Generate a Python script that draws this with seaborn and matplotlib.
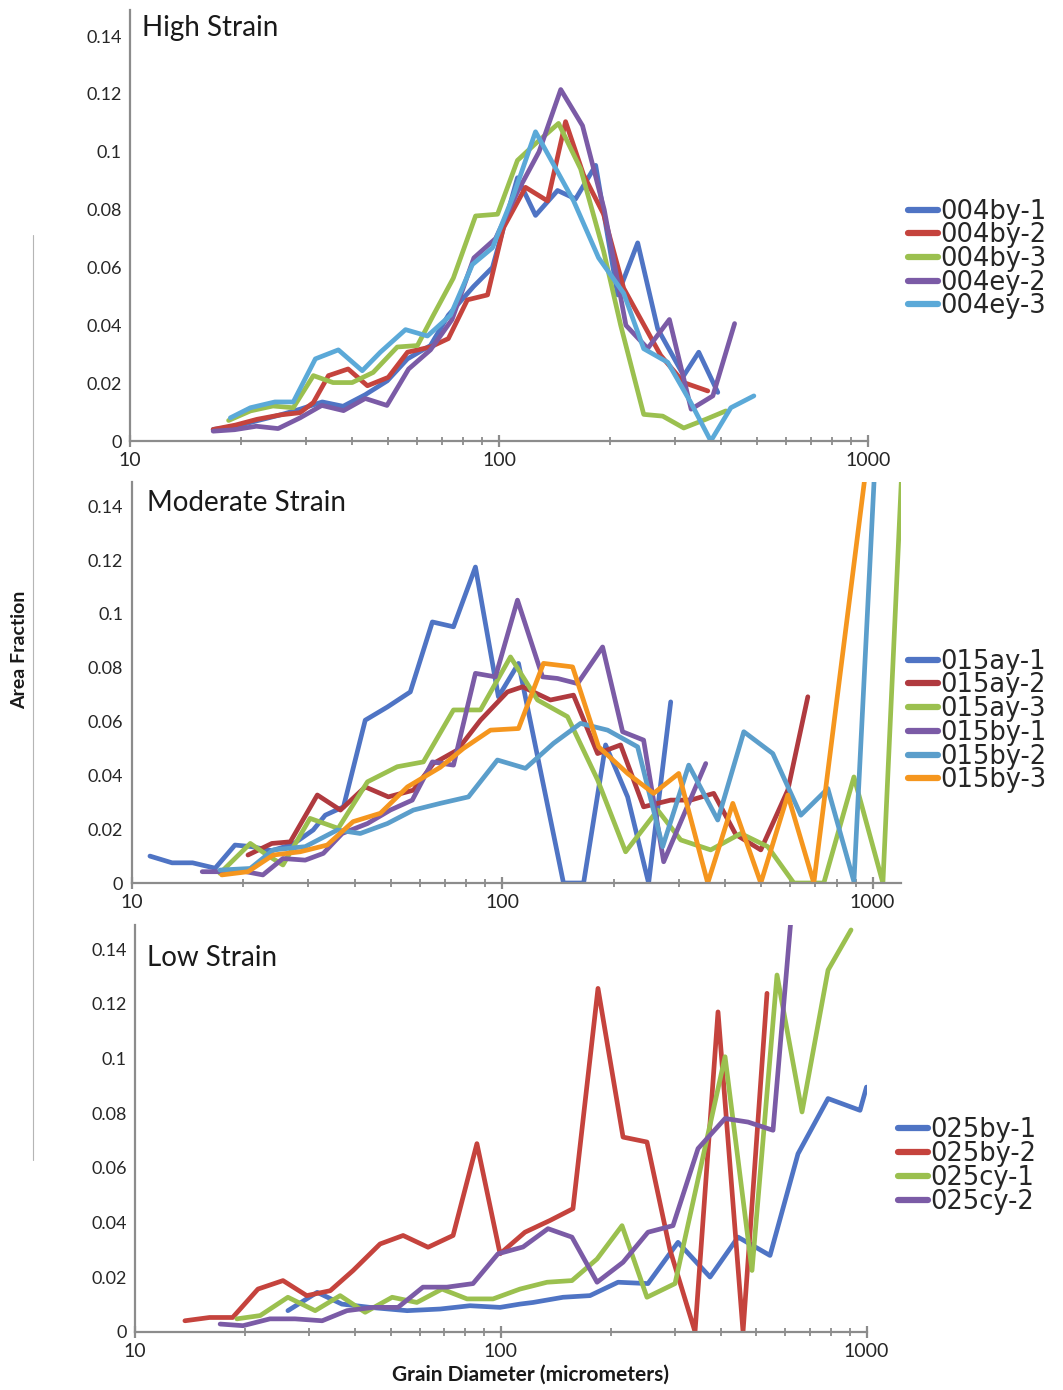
import matplotlib
matplotlib.use("Agg")
import matplotlib.pyplot as plt
import numpy as np
import pandas as pd
import seaborn as sns
from matplotlib.ticker import LogLocator, NullFormatter, FixedLocator, FixedFormatter
from matplotlib.lines import Line2D

# ---------------- data (grain diameter in micrometers, area fraction) ----------------
# High strain
hs_by1_d = [16.8, 19.3, 22.1, 25.5, 28.9, 33.2, 37.8, 43.4, 49.8, 56.5, 65.2, 72.9, 85.3, 96.0, 112.2, 125.6, 144.1, 161.3, 182.8, 209.7, 237.6, 269.2, 316.7, 347.8, 391.7]
hs_by1_f = [0.004, 0.005, 0.007, 0.009, 0.011, 0.0135, 0.012, 0.016, 0.0208, 0.0284, 0.033, 0.0435, 0.0534, 0.060, 0.091, 0.078, 0.0866, 0.0837, 0.0953, 0.0505, 0.0685, 0.0388, 0.0226, 0.0307, 0.0168]
hs_by2_d = [16.8, 19.3, 22.1, 25.5, 28.9, 31.4, 34.5, 39.0, 44.0, 50.1, 56.5, 65.2, 72.9, 82.1, 93.1, 102.8, 118.0, 135.4, 151.5, 169.5, 192.1, 217.7, 274.3, 316.7, 368.0]
hs_by2_f = [0.004, 0.0055, 0.0075, 0.009, 0.0098, 0.0133, 0.0226, 0.0249, 0.0191, 0.022, 0.0307, 0.0325, 0.0354, 0.0488, 0.0505, 0.0737, 0.0877, 0.083, 0.1104, 0.092, 0.0784, 0.0528, 0.0296, 0.0202, 0.0173]
hs_by3_d = [18.5, 21.2, 24.4, 27.7, 31.4, 35.5, 40.0, 45.6, 53.0, 60.1, 66.4, 75.2, 86.4, 99.1, 112.2, 125.6, 145.0, 166.4, 192.1, 213.7, 246.7, 277.8, 316.7, 363.5, 411.9]
hs_by3_f = [0.0071, 0.0104, 0.0121, 0.0115, 0.0226, 0.0202, 0.0202, 0.0237, 0.0325, 0.033, 0.0435, 0.0563, 0.0778, 0.0784, 0.097, 0.1028, 0.1098, 0.0941, 0.0656, 0.040, 0.0092, 0.0086, 0.0045, 0.0075, 0.0104]
hs_ey2_d = [16.8, 19.2, 22.0, 25.2, 28.9, 33.1, 37.9, 43.4, 49.7, 56.9, 65.2, 74.6, 85.5, 97.9, 112.1, 128.4, 147.0, 168.4, 192.8, 220.8, 252.9, 289.6, 331.7, 379.8, 435.0]
hs_ey2_f = [0.0034, 0.0039, 0.0051, 0.0043, 0.008, 0.0123, 0.0105, 0.0147, 0.0123, 0.0249, 0.0315, 0.042, 0.0633, 0.070, 0.086, 0.100, 0.1215, 0.109, 0.080, 0.040, 0.032, 0.042, 0.011, 0.0156, 0.0406]
hs_ey3_d = [18.7, 21.2, 24.7, 27.7, 31.8, 36.7, 42.6, 47.7, 55.8, 64.0, 73.9, 84.7, 96.0, 109.5, 125.6, 159.3, 186.2, 217.7, 246.7, 286.6, 330.9, 375.0, 424.9, 490.6]
hs_ey3_f = [0.008, 0.0115, 0.0135, 0.0135, 0.0284, 0.0315, 0.0243, 0.0307, 0.0385, 0.0363, 0.0435, 0.061, 0.0668, 0.085, 0.1069, 0.083, 0.0633, 0.0511, 0.0319, 0.0272, 0.0133, 0.0, 0.0115, 0.0156]

# Moderate strain
ms_ay1_d = [11.2, 12.85, 14.6, 16.8, 19.0, 21.1, 23.9, 27.3, 30.9, 33.3, 37.3, 42.7, 49.0, 56.5, 64.8, 73.9, 84.7, 97.7, 110.7, 146.4, 165.9, 190.2, 218.1, 248.5, 285.1]
ms_ay1_f = [0.010, 0.0075, 0.0075, 0.0055, 0.0141, 0.0135, 0.012, 0.0145, 0.0197, 0.0252, 0.0283, 0.0605, 0.0654, 0.071, 0.097, 0.0952, 0.1174, 0.0692, 0.0816, 0.0, 0.0, 0.0513, 0.032, 0.0, 0.0673]
ms_ay2_d = [20.6, 23.9, 26.8, 31.7, 36.6, 42.7, 49.3, 57.6, 65.2, 75.7, 87.4, 103.3, 113.5, 135.0, 155.8, 181.0, 208.8, 240.9, 285.1, 322.9, 372.5, 427.3, 499.1, 590.3, 668.6]
ms_ay2_f = [0.0104, 0.0147, 0.0153, 0.0327, 0.0271, 0.0357, 0.032, 0.0345, 0.0444, 0.0494, 0.0605, 0.071, 0.0729, 0.068, 0.0698, 0.0481, 0.0513, 0.0283, 0.0308, 0.0308, 0.0333, 0.018, 0.0123, 0.0345, 0.0692]
ms_ay3_d = [17.3, 20.9, 23.2, 25.6, 30.3, 36.1, 43.3, 52.1, 61.3, 73.9, 87.4, 105.3, 124.6, 150.1, 181.0, 215.4, 262.9, 303.4, 365.6, 440.8, 521.2, 612.8, 738.4, 890.4, 1066.0, 1262.0]
ms_ay3_f = [0.0036, 0.0147, 0.0104, 0.0067, 0.024, 0.0203, 0.0376, 0.0432, 0.045, 0.0643, 0.0643, 0.084, 0.068, 0.0618, 0.0383, 0.0116, 0.0271, 0.016, 0.0123, 0.0184, 0.0135, 0.0, 0.0, 0.0394, 0.0, 0.22]
ms_by1_d = [15.5, 17.1, 19.3, 22.6, 25.6, 29.4, 32.9, 37.0, 43.3, 49.9, 57.2, 64.8, 73.9, 84.7, 95.9, 110.0, 128.5, 141.1, 159.8, 186.7, 211.4, 240.9, 272.9, 354.5]
ms_by1_f = [0.0042, 0.0042, 0.0048, 0.003, 0.0091, 0.0085, 0.011, 0.0184, 0.0221, 0.0271, 0.0308, 0.045, 0.0438, 0.0779, 0.0766, 0.1051, 0.0766, 0.076, 0.0741, 0.0877, 0.0562, 0.0531, 0.0079, 0.0444]
ms_by2_d = [17.3, 20.9, 24.1, 29.4, 35.9, 41.4, 49.0, 57.6, 68.1, 81.1, 97.1, 115.6, 137.6, 162.8, 192.6, 232.1, 271.2, 318.9, 381.9, 449.1, 537.7, 640.1, 757.0, 890.4, 1053.0]
ms_by2_f = [0.0048, 0.0054, 0.0123, 0.0135, 0.0197, 0.0184, 0.0221, 0.0271, 0.0296, 0.032, 0.0457, 0.0426, 0.0519, 0.0593, 0.0568, 0.0506, 0.0135, 0.0438, 0.0234, 0.0562, 0.0481, 0.0252, 0.0351, 0.0005, 0.2]
ms_by3_d = [17.5, 20.6, 24.1, 28.5, 33.7, 39.6, 46.9, 55.5, 68.1, 78.6, 93.0, 110.7, 129.3, 154.9, 182.1, 218.1, 256.4, 299.7, 358.9, 419.4, 499.1, 590.3, 693.9, 1053.0]
ms_by3_f = [0.003, 0.0042, 0.0104, 0.0116, 0.0141, 0.0228, 0.0259, 0.0357, 0.043, 0.050, 0.0568, 0.0574, 0.0816, 0.0803, 0.0506, 0.0407, 0.0333, 0.0407, 0.0, 0.0296, 0.0, 0.0327, 0.0, 0.198]

# Low strain
ls_by1_d = [26.2, 31.5, 36.8, 43.9, 55.5, 68.3, 82.4, 99.6, 112.9, 122.6, 148.1, 175.4, 209.3, 252.7, 305.3, 373.5, 445.5, 544.8, 649.8, 785.0, 960.0, 1000.0]
ls_by1_f = [0.0077, 0.0144, 0.0101, 0.0089, 0.0077, 0.0083, 0.0095, 0.0089, 0.0101, 0.0107, 0.0126, 0.0132, 0.0181, 0.0176, 0.0327, 0.02, 0.0346, 0.0279, 0.0651, 0.0853, 0.081, 0.0895]
ls_by2_d = [13.7, 16.0, 18.5, 21.7, 25.4, 29.5, 34.2, 39.5, 46.8, 54.1, 63.3, 74.1, 86.1, 99.6, 116.5, 136.4, 157.6, 184.5, 216.0, 251.1, 290.2, 339.8, 392.7, 459.7, 534.6]
ls_by2_f = [0.004, 0.0052, 0.0052, 0.0156, 0.0187, 0.0132, 0.015, 0.0224, 0.0321, 0.0352, 0.0309, 0.0352, 0.0688, 0.0285, 0.0364, 0.0407, 0.045, 0.1256, 0.0712, 0.0694, 0.03, 0.0, 0.117, 0.0, 0.1238]
ls_cy1_d = [19.0, 22.0, 26.2, 31.1, 36.4, 42.6, 50.5, 59.0, 69.1, 80.9, 95.3, 112.9, 133.9, 156.6, 183.4, 214.6, 251.1, 299.6, 410.5, 486.4, 569.3, 666.4, 785.0, 907.3]
ls_cy1_f = [0.0047, 0.0059, 0.0126, 0.0077, 0.0132, 0.0071, 0.0126, 0.0107, 0.0156, 0.012, 0.012, 0.0156, 0.0181, 0.0187, 0.0266, 0.0388, 0.0126, 0.0176, 0.1006, 0.0224, 0.1305, 0.0804, 0.1323, 0.147]
ls_cy2_d = [17.1, 19.75, 23.4, 27.4, 32.5, 38.0, 44.8, 52.4, 61.3, 71.3, 84.0, 98.3, 115.1, 134.7, 156.6, 183.4, 216.0, 252.7, 295.8, 346.3, 410.5, 474.4, 555.2, 629.8]
ls_cy2_f = [0.0028, 0.0022, 0.0047, 0.0047, 0.004, 0.0077, 0.0089, 0.0089, 0.0163, 0.0163, 0.0176, 0.0285, 0.031, 0.0377, 0.0346, 0.0181, 0.0254, 0.0364, 0.0388, 0.067, 0.078, 0.0767, 0.0737, 0.16]

panel_titles = ["High Strain", "Moderate Strain", "Low Strain"]
hs_labels = ["004by-1", "004by-2", "004by-3", "004ey-2", "004ey-3"]
ms_labels = ["015ay-1", "015ay-2", "015ay-3", "015by-1", "015by-2", "015by-3"]
ls_labels = ["025by-1", "025by-2", "025cy-1", "025cy-2"]
y_ticks = [0, 0.02, 0.04, 0.06, 0.08, 0.1, 0.12, 0.14]
y_tick_labels = ["0", "0.02", "0.04", "0.06", "0.08", "0.1", "0.12", "0.14"]
x_ticks = [10, 100, 1000]
x_tick_labels = ["10", "100", "1000"]
x_label = "Grain Diameter (micrometers)"
y_label = "Area Fraction"

# ---------------- styling ----------------
sns.set_theme(style="white")
plt.rcParams["font.family"] = ["Lato", "DejaVu Sans"]

c_blue, c_red, c_green, c_purple, c_cyan, c_orange = (
    "#4F74C4", "#C5433D", "#9BC04F", "#7B5BA6", "#5BA9D8", "#F5961E")
c_red2, c_cyan2 = "#B03A3F", "#5B9ECB"

def long_df(labels, ds, fs):
    rows = []
    for lab, d, f in zip(labels, ds, fs):
        rows.append(pd.DataFrame({"d": d, "f": f, "sample": lab}))
    return pd.concat(rows, ignore_index=True)

df1 = long_df(hs_labels, [hs_by1_d, hs_by2_d, hs_by3_d, hs_ey2_d, hs_ey3_d],
              [hs_by1_f, hs_by2_f, hs_by3_f, hs_ey2_f, hs_ey3_f])
df2 = long_df(ms_labels, [ms_ay1_d, ms_ay2_d, ms_ay3_d, ms_by1_d, ms_by2_d, ms_by3_d],
              [ms_ay1_f, ms_ay2_f, ms_ay3_f, ms_by1_f, ms_by2_f, ms_by3_f])
df3 = long_df(ls_labels, [ls_by1_d, ls_by2_d, ls_cy1_d, ls_cy2_d],
              [ls_by1_f, ls_by2_f, ls_cy1_f, ls_cy2_f])

pal1 = dict(zip(hs_labels, [c_blue, c_red, c_green, c_purple, c_cyan]))
pal2 = dict(zip(ms_labels, [c_blue, c_red2, c_green, c_purple, c_cyan2, c_orange]))
pal3 = dict(zip(ls_labels, [c_blue, c_red, c_green, c_purple]))

W, H = 1063, 1390
fig = plt.figure(figsize=(W / 100, H / 100), dpi=100)
fig.patch.set_facecolor("white")

def px_box(left, right, top, bottom):
    return [left / W, 1 - bottom / H, (right - left) / W, (bottom - top) / H]

ax1 = fig.add_axes(px_box(130, 868, 10, 441))
ax2 = fig.add_axes(px_box(131.7, 901, 482, 883))
ax3 = fig.add_axes(px_box(134.9, 866.5, 925, 1331.7))

specs = [
    (ax1, df1, pal1, (10, 1000), (0, 0.149), panel_titles[0], (0.016, 0.958), (908, 259)),
    (ax2, df2, pal2, (10, 1193), (0, 0.149), panel_titles[1], (0.02, 0.948), (908, 721)),
    (ax3, df3, pal3, (10, 1000), (0, 0.1488), panel_titles[2], (0.0165, 0.919), (898, 1166)),
]

grey = "#8c8c8c"
for ax, df, pal, xl, yl, title, tpos, lpos in specs:
    sns.lineplot(data=df, x="d", y="f", hue="sample", palette=pal, sort=False,
                 estimator=None, linewidth=3.4, ax=ax, legend=True)
    ax.set_xscale("log")
    ax.set_xlim(*xl)
    ax.set_ylim(*yl)
    ax.set_facecolor("white")
    for s in ["top", "right"]:
        ax.spines[s].set_visible(False)
    for s in ["left", "bottom"]:
        ax.spines[s].set_color(grey)
        ax.spines[s].set_linewidth(1.6)
    ax.xaxis.set_major_locator(FixedLocator(x_ticks))
    ax.xaxis.set_major_formatter(FixedFormatter(x_tick_labels))
    ax.xaxis.set_minor_locator(LogLocator(base=10, subs=np.arange(2, 10)))
    ax.xaxis.set_minor_formatter(NullFormatter())
    ax.set_yticks(y_ticks)
    ax.set_yticklabels(y_tick_labels)
    ax.tick_params(axis="x", which="major", direction="inout", length=8, width=1.6,
                   color=grey, labelsize=14, pad=4, bottom=True)
    ax.tick_params(axis="x", which="minor", direction="inout", length=6, width=1.3,
                   color=grey, bottom=True)
    ax.tick_params(axis="y", length=0, labelsize=13, pad=6)
    ax.set_xlabel("")
    ax.set_ylabel("")
    ax.grid(False)
    ax.text(tpos[0], tpos[1], title, transform=ax.transAxes, fontsize=20,
            va="center", ha="left", color="#1a1a1a")
    handles, labels = ax.get_legend_handles_labels()
    for h in handles:
        h.set_linewidth(4.5)
    leg = ax.legend(handles, labels, loc="center left",
                    bbox_to_anchor=(lpos[0] / W, 1 - lpos[1] / H),
                    bbox_transform=fig.transFigure, frameon=False,
                    prop={"family": "DejaVu Sans", "size": 18.5},
                    handlelength=1.15, handletextpad=0.1, labelspacing=-0.09,
                    borderpad=0, borderaxespad=0)

fig.text(20 / W, 1 - 650 / H, y_label, rotation=90, fontsize=14, fontweight="bold",
         ha="center", va="center", color="#1a1a1a")
fig.text(531 / W, 1 - 1375 / H, x_label, fontsize=15, fontweight="bold",
         ha="center", va="center", color="#1a1a1a")
fig.add_artist(Line2D([33 / W, 33 / W], [1 - 235 / H, 1 - 1160 / H],
                      color="#b5b5b5", linewidth=0.8))

fig.savefig("out.png", dpi=100, facecolor="white")
